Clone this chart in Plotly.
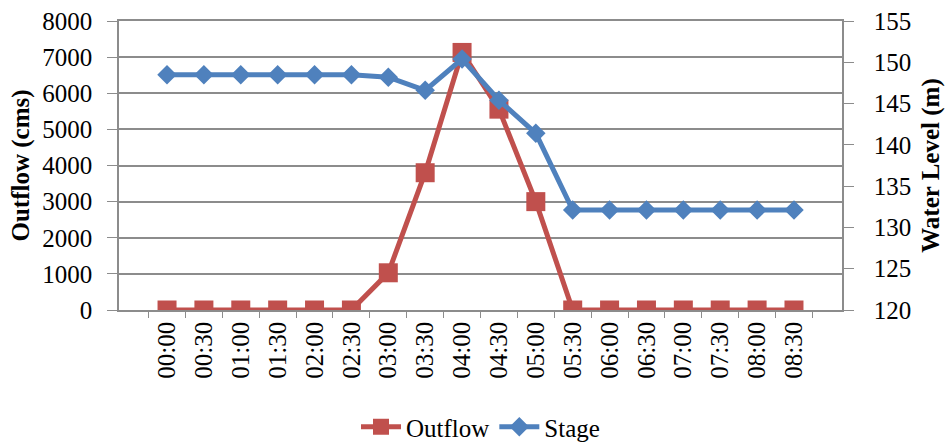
import plotly.graph_objects as go

times = ["00:00", "00:30", "01:00", "01:30", "02:00", "02:30", "03:00", "03:30", "04:00",
         "04:30", "05:00", "05:30", "06:00", "06:30", "07:00", "07:30", "08:00", "08:30"]
outflow = [0, 0, 0, 0, 0, 0, 1030, 3800, 7130, 5560, 3000, 0, 0, 0, 0, 0, 0, 0]
stage = [148.5, 148.5, 148.5, 148.5, 148.5, 148.5, 148.2, 146.6, 150.4, 145.4, 141.4,
         132.1, 132.1, 132.1, 132.1, 132.1, 132.1, 132.1]

FONT = "Liberation Serif, Times New Roman, serif"
GRID = "#8c8c8c"
FS = 25
W, H = 945, 443

fig = go.Figure()
fig.add_trace(go.Scatter(
    x=times, y=outflow, name="Outflow", mode="lines+markers",
    line=dict(color="#C0504D", width=5),
    marker=dict(symbol="square", size=19, color="#C0504D"),
    yaxis="y"))
fig.add_trace(go.Scatter(
    x=times, y=stage, name="Stage", mode="lines+markers",
    line=dict(color="#4F81BD", width=5),
    marker=dict(symbol="diamond", size=15, color="#4F81BD"),
    yaxis="y2"))

plot_l, plot_r, plot_t, plot_b = 119, 842, 21, 310
fig.update_layout(
    width=W, height=H,
    margin=dict(l=plot_l, r=W - plot_r, t=plot_t, b=H - plot_b, autoexpand=False),
    paper_bgcolor="white", plot_bgcolor="white",
    font=dict(family=FONT, size=FS, color="black"),
    showlegend=True,
    legend=dict(orientation="h", x=0.5, xanchor="center",
                y=(plot_b - 427) / (plot_b - plot_t), yanchor="middle",
                font=dict(family=FONT, size=FS), itemwidth=40, tracegroupgap=0),
    xaxis=dict(type="category", tickangle=-90, showgrid=False, automargin=False,
               showline=True, linecolor=GRID, linewidth=1.5, mirror=True,
               ticks="outside", tickson="boundaries", ticklen=6, tickcolor=GRID,
               tickfont=dict(family=FONT, size=FS)),
    yaxis=dict(range=[0, 8000], dtick=1000, showgrid=True, gridcolor=GRID, gridwidth=1.5,
               showline=True, linecolor=GRID, linewidth=1.5, automargin=False,
               ticks="outside", ticklen=10, tickcolor=GRID, zeroline=False,
               ticklabelstandoff=10, ticklabeloverflow="allow",
               title=dict(text="<b>Outflow (cms)</b>", font=dict(family=FONT, size=FS), standoff=6),
               tickfont=dict(family=FONT, size=FS)),
    yaxis2=dict(range=[120, 155], dtick=5, overlaying="y", side="right", showgrid=False,
                showline=True, linecolor=GRID, linewidth=1.5, automargin=False,
                ticks="outside", ticklen=10, tickcolor=GRID, zeroline=False,
                ticklabelstandoff=15, ticklabeloverflow="allow",
                title=dict(text="<b>Water Level (m)</b>", font=dict(family=FONT, size=FS), standoff=20),
                tickfont=dict(family=FONT, size=FS)),
)

fig.write_html("out.html", config={"displayModeBar": False},
               post_script="document.body.style.margin='0px';")
